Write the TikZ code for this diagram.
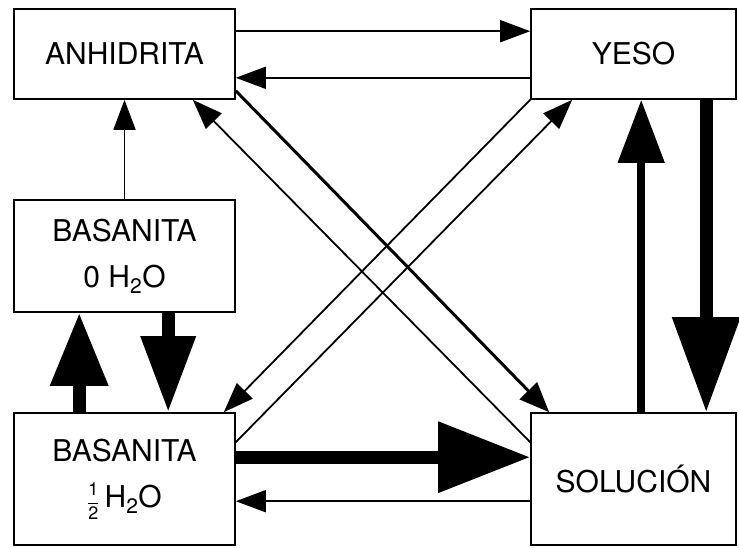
\documentclass[tikz,border=0pt]{standalone}
\usepackage{amsmath}
\usepackage{fontspec}
\setmainfont{TeX Gyre Heros}
\usetikzlibrary{arrows.meta,positioning}
\newcommand{\half}{{\fontsize{18}{18}\selectfont$\dfrac{\text{1}}{\text{2}}$}}

\begin{document}
\begin{tikzpicture}[x=1pt,y=-1pt,% styles for the whole picture
					every node/.style={
						align=center,  		% "\\" breaks the line
						font=\fontsize{30}{46}\selectfont
						},
					box/.style={rectangle,draw=black,line width=1.6pt,fill=white,inner sep=0pt},
					every edge/.style={draw,line width=1.8pt},
					flow/.style={-{Triangle[length=30pt,width=22pt]}},
					stream/.style={line width=3pt,-{Triangle[length=30pt,width=24pt]}},
					bulk/.style n args={3}{line width=#1,-{Triangle[length=#2,width=#3]}}
					]
\useasboundingbox (0,0) rectangle (739,547);
\node[box,minimum width=221pt,minimum height=90pt](anh) at (124.5,54){ANHIDRITA};
\node[box,minimum width=205pt,minimum height=90pt](yeso) at (633.5,54){YESO};
\node[box,minimum width=221pt,minimum height=112pt](bas0) at (124.5,256){BASANITA\\0 H\textsubscript{2}O};
\node[box,minimum width=221pt,minimum height=132pt](bas12) at (124.5,479){BASANITA\\\half\,H\textsubscript{2}O};
\node[box,minimum width=205pt,minimum height=132pt](sol) at (633.5,479){SOLUCIÓN};
\path
([yshift=-23pt]anh.north east)edge [flow] ([yshift=-23pt]yeso.north west)
([yshift=22pt]yeso.south west)edge [flow] ([yshift=22pt]anh.south east)
(bas0.north)edge [flow] (anh.south)
([xshift=66pt]bas12.north west)edge [bulk={13pt}{73pt}{55pt}] ([xshift=66pt]bas0.south west)
([xshift=155pt]bas0.south west)edge [bulk={13pt}{76pt}{52pt}] ([xshift=155pt]bas12.north west)
([yshift=-45pt]bas12.north east)edge [bulk={13pt}{92pt}{68pt}] ([yshift=-45pt]sol.north west)
([yshift=-89pt]sol.north west)edge [flow] ([yshift=-89pt]bas12.north east)
([xshift=111pt]sol.north west)edge [bulk={8pt}{63pt}{45pt}] ([xshift=111pt]yeso.south west)
([xshift=176pt]yeso.south west)edge [bulk={13pt}{95pt}{65pt}] ([xshift=176pt]sol.north west)
([yshift=9pt]anh.south east)edge [stream] ([xshift=19pt]sol.north west)
([yshift=-30pt]sol.north west)edge [flow] ([xshift=-43pt]anh.south east)
(yeso.south west)edge [flow] ([xshift=-12pt]bas12.north east)
([yshift=-30pt]bas12.north east)edge [flow] ([xshift=42pt]yeso.south west)
;
\end{tikzpicture}
\end{document}
